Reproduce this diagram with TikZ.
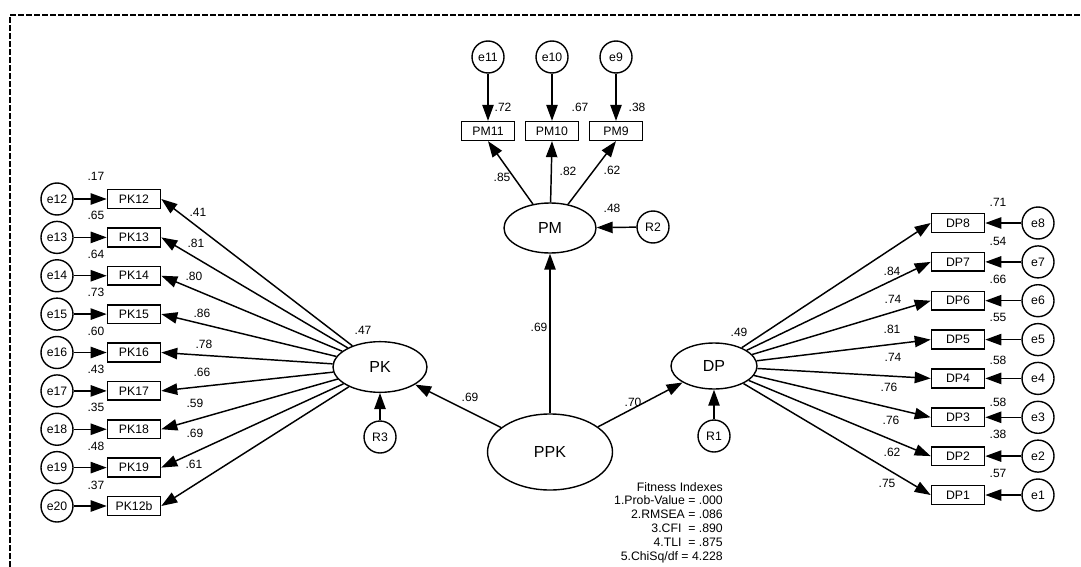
\documentclass[tikz,border=0pt]{standalone}
\usepackage{fontspec}
\setmainfont{Liberation Sans}
\usetikzlibrary{arrows.meta,shapes.geometric}
\begin{document}
\begin{tikzpicture}[x=0.75pt,y=-0.75pt,
  obs/.style={draw, line width=1.2pt, minimum width=39.75pt, minimum height=14pt, inner sep=0pt, font=\fontsize{9.2}{10}\selectfont},
  err/.style={draw, circle, line width=1.05pt, minimum size=24pt, inner sep=0pt, font=\fontsize{9.2}{10}\selectfont},
  lat/.style={draw, ellipse, line width=1.05pt, inner sep=0pt, font=\fontsize{12}{14}\selectfont},
  lbl/.style={font=\fontsize{9}{10}\selectfont, inner sep=0pt},
  arr/.style={line width=1.1pt, -{Triangle[length=12pt,width=8.5pt]}},
  frame/.style={line width=0.8pt, dash pattern=on 4.5pt off 1.5pt},
]
\useasboundingbox (0,0) rectangle (1081,567);
% frame
\coordinate (f1) at (10,567);
\coordinate (f2) at (10,15);
\coordinate (f3) at (1081,15);
\draw[frame] (f1) -- (f2) -- (f3);

% latent variables
\node[lat, minimum width=70.5pt, minimum height=38pt] (PK) at (380,367) {PK};
\node[lat, minimum width=69pt, minimum height=37.5pt] (PM) at (550,228) {PM};
\node[lat, minimum width=64.5pt, minimum height=34.5pt] (DP) at (714,366) {DP};
\node[lat, minimum width=93.75pt, minimum height=57pt] (PPK) at (550,452) {PPK};

% residuals
\node[err] (R3) at (380,437) {R3};
\node[err] (R2) at (653,227) {R2};
\node[err] (R1) at (714,436) {R1};
\draw[arr] (R3) -- (PK);
\draw[arr] (R2) -- (PM);
\draw[arr] (R1) -- (DP);
\node[lbl] (sPK) at (363,330) {.47};
\node[lbl] (sPM) at (612,208) {.48};
\node[lbl] (sDP) at (739,332) {.49};

% structural paths
\draw[arr] (PPK) -- (PK);
\draw[arr] (PPK) -- (PM);
\draw[arr] (PPK) -- (DP);
\node[lbl] (bPK) at (470,397) {.69};
\node[lbl] (bPM) at (539,327) {.69};
\node[lbl] (bDP) at (633,402) {.70};

% PK indicators
\foreach \y/\b/\e/\r/\ry/\l/\lx/\ly in {
  199/PK12/e12/.17/176/.41/198/212,
  237.4/PK13/e13/.65/215/.81/196/243,
  275.75/PK14/e14/.64/254/.80/194/276,
  314.1/PK15/e15/.73/292/.86/202/313,
  352.5/PK16/e16/.60/331/.78/204/344,
  390.9/PK17/e17/.43/369/.66/202/372,
  429.25/PK18/e18/.35/407/.59/195/403,
  467.6/PK19/e19/.48/446/.69/195/433,
  506/PK12b/e20/.37/485/.61/194/464}{
  \node[obs] (\b) at (134,\y) {\b};
  \node[err] (\e) at (57,\y) {\e};
  \draw[arr] (\e) -- (\b);
  \draw[arr] (PK) -- (\b.east);
  \node[lbl] (r\b) at (96,\ry) {\r};
  \node[lbl] (l\b) at (\lx,\ly) {\l};
}

% PM indicators
\foreach \x/\b/\e/\r/\rx/\l/\lx/\ly in {
  488/PM11/e11/.72/503/.85/502/177,
  552/PM10/e10/.67/580/.82/568/171,
  616/PM9/e9/.38/637/.62/612/170}{
  \node[obs] (\b) at (\x,131) {\b};
  \node[err] (\e) at (\x,57) {\e};
  \draw[arr] (\e) -- (\b);
  \draw[arr] (PM) -- (\b.south);
  \node[lbl] (r\b) at (\rx,107) {\r};
  \node[lbl] (l\b) at (\lx,\ly) {\l};
}

% DP indicators
\foreach \y/\b/\e/\r/\ry/\l/\lx/\ly in {
  223/DP8/e8/.71/202/.84/892/271,
  261.9/DP7/e7/.54/241/.74/893/299,
  300.7/DP6/e6/.66/279/.81/892/329,
  339.6/DP5/e5/.55/317/.74/893/357,
  378.4/DP4/e4/.58/360/.76/889/387,
  417.3/DP3/e3/.58/402/.76/891/420,
  456.1/DP2/e2/.38/434/.62/892/452,
  495/DP1/e1/.57/473/.75/887/483}{
  \node[obs] (\b) at (958,\y) {\b};
  \node[err] (\e) at (1038,\y) {\e};
  \draw[arr] (\e) -- (\b);
  \draw[arr] (DP) -- (\b.west);
  \node[lbl] (r\b) at (998,\ry) {\r};
  \node[lbl] (l\b) at (\lx,\ly) {\l};
}

% fit indices
\node[lbl, align=right, anchor=north east, font=\fontsize{9.2}{10.35}\selectfont] (fit) at (723,482)
  {Fitness Indexes\\1.Prob-Value = .000\\2.RMSEA = .086\\3.CFI\ \ = .890\\4.TLI\ \ = .875\\5.ChiSq/df = 4.228};
\end{tikzpicture}
\end{document}
